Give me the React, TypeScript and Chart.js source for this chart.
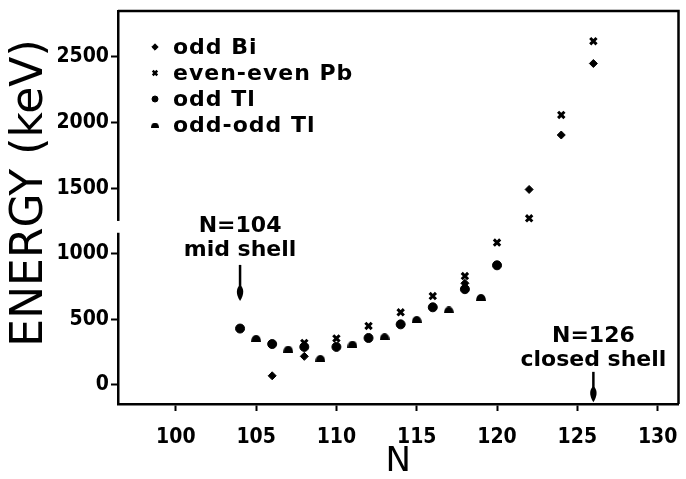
import React, { useEffect, useRef } from 'react';
import { Chart, registerables } from 'chart.js';
import { drawPoint } from 'chart.js/helpers';

Chart.register(...registerables);

// ---- data ----
const seriesLabels = ['odd Bi', 'even-even Pb', 'odd Tl', 'odd-odd Tl'];

const oddBiN = [106, 108, 118, 122, 124, 126];
const oddBiE = [70, 218, 775, 1490, 1905, 2450];

const evenPbN = [108, 110, 112, 114, 116, 118, 120, 122, 124, 126];
const evenPbE = [320, 355, 450, 554, 678, 830, 1085, 1270, 2058, 2620];

const oddTlN = [104, 106, 108, 110, 112, 114, 116, 118, 120];
const oddTlE = [430, 312, 290, 290, 358, 462, 592, 730, 912];

const oddOddTlN = [105, 107, 109, 111, 113, 115, 117, 119];
const oddOddTlE = [356, 274, 203, 312, 368, 500, 572, 668];

const xTicks = [100, 105, 110, 115, 120, 125, 130];
const yTicks = [0, 500, 1000, 1500, 2000, 2500];
const xMin = 96.4;
const xMax = 131.3;
const yMin = -145;
const yMax = 2850;

const xTitle = 'N';
const yTitle = 'ENERGY (keV)';

// annotations: N position, text lines, arrow energy span
const noteN = [104, 126];
const noteLines = [['N=104', 'mid shell'], ['N=126', 'closed shell']];
const noteTextE = [[1212, 1029], [373, 190]];
const noteArrowE = [[915, 640], [100, -132]];

// axis break on the energy axis
const breakE = [1160, 1250];

const FONT = '"DejaVu Sans", "Liberation Sans", sans-serif';
const TICKFONT = '"DejaVu Sans Condensed", "Liberation Sans Narrow", "DejaVu Sans", sans-serif';

function makeDome(w: number, h: number): HTMLCanvasElement {
  const c = document.createElement('canvas');
  c.width = w;
  c.height = h;
  const g = c.getContext('2d')!;
  g.fillStyle = '#000';
  g.beginPath();
  g.ellipse(w / 2, h, w / 2, h, 0, Math.PI, 2 * Math.PI);
  g.closePath();
  g.fill();
  return c;
}

const pts = (xs: number[], ys: number[]) => xs.map((x, i) => ({ x, y: ys[i] }));

export default function App() {
  const ref = useRef<HTMLCanvasElement | null>(null);

  useEffect(() => {
    if (!ref.current) return;
    const dome = makeDome(10, 7);
    const domeSmall = makeDome(8, 5);

    const styles: any[] = [
      { pointStyle: 'rectRot', radius: 3.2, borderWidth: 1 },
      { pointStyle: 'crossRot', radius: 3.2, borderWidth: 2.5 },
      { pointStyle: 'circle', radius: 3, borderWidth: 1 },
      { pointStyle: domeSmall, radius: 3, borderWidth: 0 },
    ];

    const decor = {
      id: 'decor',
      afterDraw(chart: any) {
        const { ctx, chartArea: a, scales } = chart;
        const xs = scales.x;
        const ys = scales.y;
        ctx.save();
        // frame top/right
        ctx.strokeStyle = '#000';
        ctx.lineWidth = 2.5;
        ctx.beginPath();
        ctx.moveTo(a.left, a.top);
        ctx.lineTo(a.right, a.top);
        ctx.lineTo(a.right, a.bottom);
        ctx.stroke();
        // axis break
        ctx.fillStyle = '#fff';
        const b0 = ys.getPixelForValue(breakE[1]);
        const b1 = ys.getPixelForValue(breakE[0]);
        ctx.fillRect(a.left - 3, b0, 6, b1 - b0);

        // annotations
        ctx.fillStyle = '#000';
        ctx.strokeStyle = '#000';
        ctx.font = `bold 22px ${FONT}`;
        ctx.textAlign = 'center';
        ctx.textBaseline = 'middle';
        noteN.forEach((n, i) => {
          const px = xs.getPixelForValue(n);
          noteLines[i].forEach((t, j) => {
            ctx.fillText(t, px, ys.getPixelForValue(noteTextE[i][j]));
          });
          const yt = ys.getPixelForValue(noteArrowE[i][0]);
          const yb = ys.getPixelForValue(noteArrowE[i][1]);
          ctx.lineWidth = 2.5;
          ctx.beginPath();
          ctx.moveTo(px, yt);
          ctx.lineTo(px, yb - 12);
          ctx.stroke();
          ctx.beginPath();
          ctx.moveTo(px, yb);
          ctx.bezierCurveTo(px - 4.5, yb - 7, px - 4, yb - 13, px, yb - 16);
          ctx.bezierCurveTo(px + 4, yb - 13, px + 4.5, yb - 7, px, yb);
          ctx.fill();
        });

        // legend
        ctx.textAlign = 'left';
        ctx.font = `bold 22px ${FONT}`;
        try {
          (ctx as any).letterSpacing = '1px';
        } catch (e) {}
        seriesLabels.forEach((lab, i) => {
          const y = a.top + 36 + i * 26;
          const x = a.left + 37;
          ctx.fillStyle = '#000';
          ctx.strokeStyle = '#000';
          ctx.lineWidth = styles[i].borderWidth;
          drawPoint(ctx, { pointStyle: styles[i].pointStyle, radius: styles[i].radius, rotation: 0, borderWidth: styles[i].borderWidth } as any, x, y);
          ctx.fillStyle = '#000';
          ctx.fillText(lab, x + 18, y + 1);
        });
        try {
          (ctx as any).letterSpacing = '0px';
        } catch (e) {}

        // y title
        ctx.save();
        ctx.translate(31, 193);
        ctx.rotate(-Math.PI / 2);
        ctx.textAlign = 'center';
        ctx.textBaseline = 'middle';
        ctx.font = `44px ${FONT}`;
        ctx.fillText(yTitle, 0, 0);
        ctx.restore();
        ctx.restore();
      },
    };

    const chart = new Chart(ref.current, {
      type: 'scatter',
      data: {
        datasets: [
          {
            label: seriesLabels[0],
            data: pts(oddBiN, oddBiE),
            pointStyle: 'rectRot',
            pointRadius: 4,
            backgroundColor: '#000',
            borderColor: '#000',
            borderWidth: 1,
          },
          {
            label: seriesLabels[1],
            data: pts(evenPbN, evenPbE),
            pointStyle: 'crossRot',
            pointRadius: 4.5,
            backgroundColor: '#000',
            borderColor: '#000',
            borderWidth: 3,
          },
          {
            label: seriesLabels[2],
            data: pts(oddTlN, oddTlE),
            pointStyle: 'circle',
            pointRadius: 4.5,
            backgroundColor: '#000',
            borderColor: '#000',
            borderWidth: 1,
          },
          {
            label: seriesLabels[3],
            data: pts(oddOddTlN, oddOddTlE),
            pointStyle: dome as any,
            pointRadius: 5,
            backgroundColor: '#000',
            borderColor: '#000',
            borderWidth: 0,
          },
        ],
      },
      options: {
        animation: false,
        responsive: false,
        layout: { padding: { top: 11, right: 2, left: 0, bottom: 0 } },
        plugins: {
          legend: { display: false },
          tooltip: { enabled: false },
        },
        scales: {
          x: {
            type: 'linear',
            position: 'bottom',
            min: xMin,
            max: xMax,
            afterBuildTicks: (s: any) => {
              s.ticks = xTicks.map((v) => ({ value: v }));
            },
            afterFit: (s: any) => {
              s.height = 75;
              s.paddingLeft = 0;
              s.paddingRight = 0;
            },
            grid: {
              display: true,
              drawOnChartArea: false,
              drawTicks: true,
              tickLength: 7,
              tickWidth: 2,
              tickColor: '#000',
            },
            border: { display: true, color: '#000', width: 2.5 },
            ticks: {
              color: '#000',
              font: { family: TICKFONT, size: 21, weight: 'bold' },
              padding: 14,
              maxRotation: 0,
              autoSkip: false,
              callback: (v: any) => String(v),
            },
            title: {
              display: true,
              text: xTitle,
              color: '#000',
              font: { family: FONT, size: 34, lineHeight: 1 },
              padding: { top: 0, bottom: 0 },
            },
          },
          y: {
            type: 'linear',
            position: 'left',
            min: yMin,
            max: yMax,
            afterBuildTicks: (s: any) => {
              s.ticks = yTicks.map((v) => ({ value: v }));
            },
            afterFit: (s: any) => {
              s.width = 118;
              s.paddingTop = 0;
              s.paddingBottom = 0;
            },
            grid: {
              display: true,
              drawOnChartArea: false,
              drawTicks: true,
              tickLength: 7,
              tickWidth: 2,
              tickColor: '#000',
            },
            border: { display: true, color: '#000', width: 2.5 },
            ticks: {
              color: '#000',
              font: { family: TICKFONT, size: 21, weight: 'bold' },
              padding: 2,
              callback: (v: any) => String(v),
            },
          },
        },
      },
      plugins: [decor],
    });
    return () => chart.destroy();
  }, []);

  return (
    <div style={{ position: 'fixed', left: 0, top: 0, width: 686, height: 479, background: '#fff' }}>
      <canvas ref={ref} width={686} height={479} style={{ display: 'block', width: 686, height: 479 }} />
    </div>
  );
}
